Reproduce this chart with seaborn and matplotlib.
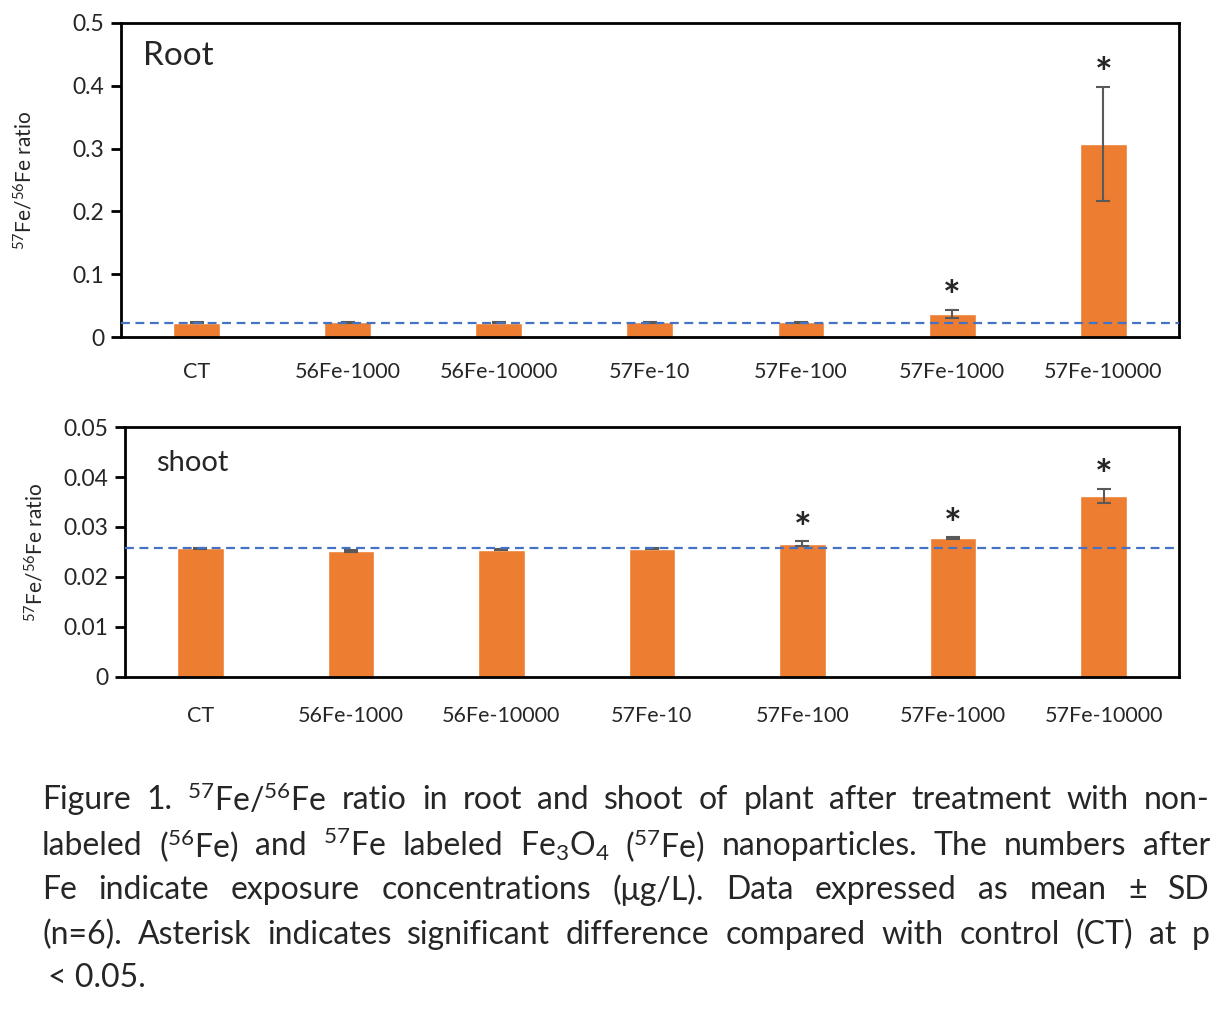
import numpy as np
import pandas as pd
import matplotlib
matplotlib.use("Agg")
import matplotlib.pyplot as plt
import seaborn as sns

# =========================
# Data
# =========================
groups = ["CT", "56Fe-1000", "56Fe-10000", "57Fe-10", "57Fe-100", "57Fe-1000", "57Fe-10000"]

root_mean = [0.0230, 0.0231, 0.0230, 0.0231, 0.0231, 0.0367, 0.3075]
root_sd = [0.0010, 0.0010, 0.0008, 0.0008, 0.0008, 0.0066, 0.0910]
root_sig = [False, False, False, False, False, True, True]

shoot_mean = [0.02570, 0.02520, 0.02540, 0.02560, 0.02660, 0.02780, 0.03620]
shoot_sd = [0.00010, 0.00012, 0.00010, 0.00010, 0.00050, 0.00012, 0.00140]
shoot_sig = [False, False, False, False, True, True, True]

root_ticks = [0, 0.1, 0.2, 0.3, 0.4, 0.5]
root_ticklabels = ["0", "0.1", "0.2", "0.3", "0.4", "0.5"]
shoot_ticks = [0, 0.01, 0.02, 0.03, 0.04, 0.05]
shoot_ticklabels = ["0", "0.01", "0.02", "0.03", "0.04", "0.05"]

caption_lines = [
    "Figure 1. $^{57}$Fe/$^{56}$Fe ratio in root and shoot of plant after treatment with non-",
    "labeled ($^{56}$Fe) and $^{57}$Fe labeled Fe$_{3}$O$_{4}$ ($^{57}$Fe) nanoparticles. The numbers after",
    "Fe indicate exposure concentrations (μg/L). Data expressed as mean ± SD",
    "(n=6). Asterisk indicates significant difference compared with control (CT) at p",
    " < 0.05.",
]

# =========================
# Setup
# =========================
sns.set_theme(style="white")
plt.rcParams["font.family"] = ["Lato", "DejaVu Sans"]
plt.rcParams["mathtext.fontset"] = "custom"
plt.rcParams["mathtext.rm"] = "Lato"
plt.rcParams["mathtext.it"] = "Lato:italic"
plt.rcParams["mathtext.bf"] = "Lato:bold"

BAR_COLOR = "#ED7D31"
LINE_COLOR = "#4472C4"
ERR_COLOR = "#595959"

fig = plt.figure(figsize=(12.28, 10.16), dpi=100)
ax_root = fig.add_axes([0.0985, 0.6683, 0.8615, 0.3091])
ax_shoot = fig.add_axes([0.1018, 0.3337, 0.8582, 0.2460])


def draw_panel(ax, means, sds, sig, ticks, ticklabels, title, title_size, title_xy, xpad):
    df = pd.DataFrame({"group": groups, "value": means})
    sns.barplot(data=df, x="group", y="value", color=BAR_COLOR, width=0.31,
                saturation=1, errorbar=None, ax=ax, zorder=2)
    xs = np.arange(len(groups))
    ax.errorbar(xs, means, yerr=sds, fmt="none", ecolor=ERR_COLOR,
                elinewidth=1.5, capsize=5, capthick=1.5, zorder=3)
    ax.axhline(means[0], color=LINE_COLOR, linestyle=(0, (4, 2.5)),
               linewidth=1.6, zorder=4)
    for x, m, s, flag in zip(xs, means, sds, sig):
        if flag:
            ax.annotate("*", (x, m + s), xytext=(0, -6), textcoords="offset points",
                        ha="center", va="bottom", fontsize=30, fontweight="bold")

    ax.set_xlim(-0.5, len(groups) - 0.5)
    ax.set_ylim(ticks[0], ticks[-1])
    ax.set_yticks(ticks)
    ax.set_yticklabels(ticklabels, fontsize=16.5)
    ax.set_xticks(xs)
    ax.set_xticklabels(groups, fontsize=15.5)
    ax.set_xticks(np.arange(len(groups) + 1) - 0.5, minor=True)
    ax.tick_params(axis="x", which="major", length=0, pad=xpad)
    ax.tick_params(axis="x", which="minor", length=7, width=2, direction="out", color="black")
    ax.tick_params(axis="y", length=7, width=2, direction="out", color="black", pad=5, left=True)
    ax.set_xlabel("")
    ax.set_ylabel("$^{57}$Fe/$^{56}$Fe ratio", fontsize=15)
    for sp in ax.spines.values():
        sp.set_visible(True)
        sp.set_color("black")
        sp.set_linewidth(2)
    ax.text(title_xy[0], title_xy[1], title, transform=ax.transAxes, fontsize=title_size,
            ha="left", va="center")


draw_panel(ax_root, root_mean, root_sd, root_sig, root_ticks, root_ticklabels,
           "Root", 24, (0.021, 0.895), 18)
draw_panel(ax_shoot, shoot_mean, shoot_sd, shoot_sig, shoot_ticks, shoot_ticklabels,
           "shoot", 21, (0.029, 0.855), 21)
ax_root.yaxis.set_label_coords(-0.080, 0.5)
ax_shoot.yaxis.set_label_coords(-0.074, 0.5)

# =========================
# Caption (justified lines)
# =========================
renderer = fig.canvas.get_renderer()
x_left, x_right = 42 / 1228, 1210 / 1228
line_y = [800, 846, 890, 935, 978]
CAP_SIZE = 23

for i, (line, yp) in enumerate(zip(caption_lines, line_y)):
    y = 1 - yp / 1016
    if i == len(caption_lines) - 1:
        fig.text(x_left + 6 / 1228, y, line.strip(), fontsize=CAP_SIZE, va="center", ha="left")
        continue
    words = line.split(" ")
    texts = [fig.text(0, y, w, fontsize=CAP_SIZE, va="center", ha="left") for w in words]
    widths = [t.get_window_extent(renderer).width / fig.bbox.width for t in texts]
    gap = max((x_right - x_left - sum(widths)) / (len(words) - 1), 3 / 1228)
    x = x_left
    for t, w in zip(texts, widths):
        t.set_x(x)
        x += w + gap

fig.savefig("out.png", dpi=100)
